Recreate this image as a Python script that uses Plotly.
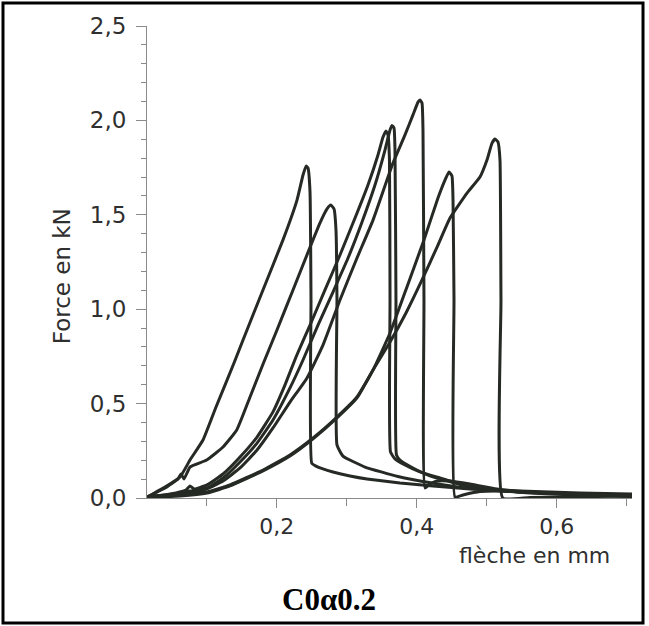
import plotly.graph_objects as go

# ---- data (flèche en mm, Force en kN) ----
xA = [0.0147, 0.0404, 0.0619, 0.0761, 0.0947, 0.1133, 0.139, 0.1519, 0.1804, 0.209, 0.229, 0.2376, 0.2419, 0.2447, 0.2476, 0.249, 0.25, 0.2561, 0.2661, 0.2804, 0.3047, 0.329, 0.3761, 0.4233, 0.4761, 0.5476, 0.6333, 0.7076]
yA = [0.005, 0.058, 0.111, 0.201, 0.307, 0.482, 0.715, 0.837, 1.102, 1.367, 1.578, 1.711, 1.758, 1.748, 1.62, 1.049, 0.185, 0.169, 0.154, 0.138, 0.117, 0.101, 0.079, 0.064, 0.048, 0.037, 0.026, 0.021]

xB = [0.0147, 0.0404, 0.059, 0.0633, 0.0676, 0.0761, 0.1, 0.1233, 0.1429, 0.1619, 0.1811, 0.2004, 0.2233, 0.2461, 0.2619, 0.2719, 0.2771, 0.2819, 0.2847, 0.2861, 0.2861, 0.2947, 0.3261, 0.3733, 0.4219, 0.469, 0.519, 0.6047, 0.7076]
yB = [0.005, 0.053, 0.101, 0.127, 0.101, 0.164, 0.201, 0.27, 0.36, 0.535, 0.715, 0.89, 1.102, 1.314, 1.457, 1.531, 1.552, 1.531, 1.419, 1.049, 0.281, 0.222, 0.164, 0.114, 0.079, 0.053, 0.037, 0.024, 0.016]

xC1 = [0.0147, 0.0476, 0.0704, 0.0761, 0.0819, 0.1004, 0.1233, 0.1476, 0.1719, 0.1947, 0.2119, 0.2276, 0.2476, 0.269, 0.2904, 0.3119, 0.3304, 0.3447, 0.3519, 0.3561, 0.359, 0.3611, 0.3619, 0.3626, 0.369, 0.3833, 0.4047, 0.4333, 0.4661, 0.5147, 0.5619, 0.6576, 0.7076]
yC1 = [0.005, 0.021, 0.042, 0.064, 0.048, 0.069, 0.127, 0.217, 0.323, 0.456, 0.599, 0.747, 0.916, 1.102, 1.287, 1.483, 1.658, 1.817, 1.912, 1.944, 1.923, 1.79, 1.049, 0.244, 0.207, 0.175, 0.138, 0.106, 0.069, 0.042, 0.029, 0.016, 0.011]

xC2 = [0.0147, 0.0547, 0.0761, 0.1004, 0.1233, 0.1476, 0.1719, 0.1947, 0.219, 0.2376, 0.259, 0.2804, 0.3019, 0.3219, 0.3404, 0.3547, 0.3619, 0.3647, 0.3676, 0.369, 0.3704, 0.3711, 0.3761, 0.3947, 0.419, 0.4661, 0.5147, 0.5619, 0.6576, 0.7076]
yC2 = [0.005, 0.021, 0.037, 0.053, 0.106, 0.191, 0.291, 0.413, 0.583, 0.731, 0.916, 1.091, 1.271, 1.462, 1.658, 1.843, 1.949, 1.973, 1.96, 1.843, 1.049, 0.228, 0.201, 0.159, 0.117, 0.069, 0.042, 0.026, 0.013, 0.008]

xD = [0.0147, 0.0547, 0.0833, 0.1004, 0.1233, 0.1476, 0.1719, 0.1947, 0.219, 0.2433, 0.2661, 0.2904, 0.3147, 0.3376, 0.3661, 0.3833, 0.3947, 0.4019, 0.4047, 0.4076, 0.409, 0.4104, 0.4119, 0.419, 0.429, 0.4476, 0.4761, 0.5147, 0.5619, 0.6576, 0.7076]
yD = [0.005, 0.016, 0.032, 0.048, 0.09, 0.159, 0.254, 0.371, 0.508, 0.636, 0.81, 1.049, 1.271, 1.472, 1.774, 1.923, 2.029, 2.097, 2.108, 2.092, 1.949, 1.049, 0.053, 0.074, 0.09, 0.09, 0.074, 0.048, 0.032, 0.016, 0.011]

xE = [0.0147, 0.0619, 0.1004, 0.1333, 0.1804, 0.219, 0.2519, 0.2861, 0.3147, 0.3376, 0.3619, 0.3861, 0.4104, 0.4304, 0.4404, 0.4461, 0.4504, 0.4519, 0.4533, 0.4547, 0.4661, 0.4904, 0.519, 0.5619, 0.6576, 0.7076]
yE = [0.005, 0.016, 0.032, 0.069, 0.148, 0.228, 0.318, 0.429, 0.535, 0.678, 0.874, 1.118, 1.367, 1.589, 1.684, 1.727, 1.706, 1.578, 1.049, 0.005, 0.016, 0.034, 0.037, 0.029, 0.016, 0.011]

xF = [0.0147, 0.0619, 0.1004, 0.1333, 0.1804, 0.219, 0.2519, 0.2861, 0.3147, 0.3376, 0.3619, 0.3847, 0.4076, 0.4304, 0.4476, 0.4719, 0.4904, 0.5004, 0.5076, 0.5119, 0.5161, 0.519, 0.5204, 0.5229, 0.5619, 0.6576, 0.7076]
yF = [0.005, 0.011, 0.026, 0.064, 0.143, 0.222, 0.313, 0.424, 0.53, 0.678, 0.826, 0.98, 1.155, 1.34, 1.483, 1.615, 1.70, 1.79, 1.88, 1.901, 1.886, 1.79, 1.049, 0.0, 0.003, 0.008, 0.011]

curves = [(xA, yA), (xB, yB), (xC1, yC1), (xC2, yC2), (xD, yD), (xE, yE), (xF, yF)]

x_tickvals = [0.2, 0.4, 0.6]
x_ticktext = ["0,2", "0,4", "0,6"]
y_tickvals = [0.0, 0.5, 1.0, 1.5, 2.0, 2.5]
y_ticktext = ["0,0", "0,5", "1,0", "1,5", "2,0", "2,5"]
x_range = [0.0147, 0.7076]
y_range = [0.0, 2.5]

LINE = "#262a24"
AX = "#8a8a8a"
TXT = "#2f2f2f"
FONT = "DejaVu Sans"
FS = 23

fig = go.Figure()
for xs, ys in curves:
    fig.add_trace(go.Scatter(x=xs, y=ys, mode="lines",
                             line=dict(color=LINE, width=3, shape="spline", smoothing=0.4),
                             hoverinfo="skip", showlegend=False))

common_x = dict(range=x_range, showgrid=False, zeroline=False, showline=True,
                linecolor=AX, linewidth=1, tickcolor=AX, tickwidth=1)
common_y = dict(range=y_range, showgrid=False, zeroline=False, showline=True,
                linecolor=AX, linewidth=1, tickcolor=AX, tickwidth=1)

fig.update_layout(
    width=649, height=626,
    margin=dict(l=147, r=17, t=26, b=128),
    paper_bgcolor="white", plot_bgcolor="white",
    showlegend=False,
    font=dict(family=FONT, color=TXT),
    xaxis=dict(**common_x, tickvals=x_tickvals, ticktext=x_ticktext,
               ticks="outside", ticklen=9, ticklabelstandoff=0,
               tickfont=dict(family=FONT, size=22, color=TXT),
               minor=dict(dtick=0.1, tick0=0, ticks="outside", ticklen=7,
                          tickcolor=AX, tickwidth=1)),
    xaxis2=dict(**common_x, overlaying="x", anchor="y", side="bottom",
                tickvals=x_tickvals, showticklabels=False,
                ticks="inside", ticklen=6,
                minor=dict(dtick=0.1, tick0=0, ticks="inside", ticklen=3,
                           tickcolor=AX, tickwidth=1)),
    yaxis=dict(**common_y, tickvals=y_tickvals, ticktext=y_ticktext,
               ticks="outside", ticklen=10, ticklabelstandoff=5,
               tickfont=dict(family=FONT, size=FS, color=TXT),
               minor=dict(dtick=0.1, tick0=0, ticks="outside", ticklen=5,
                          tickcolor=AX, tickwidth=1)),
    yaxis2=dict(**common_y, overlaying="y", anchor="x", side="left",
                tickvals=y_tickvals, showticklabels=False,
                ticks="inside", ticklen=10,
                minor=dict(dtick=0.1, tick0=0, ticks="inside", ticklen=6,
                           tickcolor=AX, tickwidth=1)),
    title=dict(text="<b>C0α0.2</b>", xref="container", yref="container",
               x=0.507, y=0.043, xanchor="center", yanchor="middle",
               font=dict(family="Liberation Serif", size=31, color="black")),
)

fig.add_annotation(text="flèche en mm", xref="paper", yref="paper",
                   x=0.959, y=-0.122, xanchor="right", yanchor="middle",
                   showarrow=False, font=dict(family=FONT, size=22, color=TXT))
fig.add_annotation(text="Force en kN", xref="paper", yref="paper",
                   x=-0.176, y=0.469, xanchor="center", yanchor="middle",
                   textangle=-90, showarrow=False,
                   font=dict(family=FONT, size=FS, color=TXT))

# outer frame of the figure
fig.add_shape(type="rect", xref="paper", yref="paper",
              x0=-0.2969, x1=1.0227, y0=-0.2648, y1=1.0487,
              line=dict(color="black", width=3), fillcolor="rgba(0,0,0,0)")

fig.write_html("out.html", config={"displayModeBar": False},
               post_script="document.body.style.margin='0';")
